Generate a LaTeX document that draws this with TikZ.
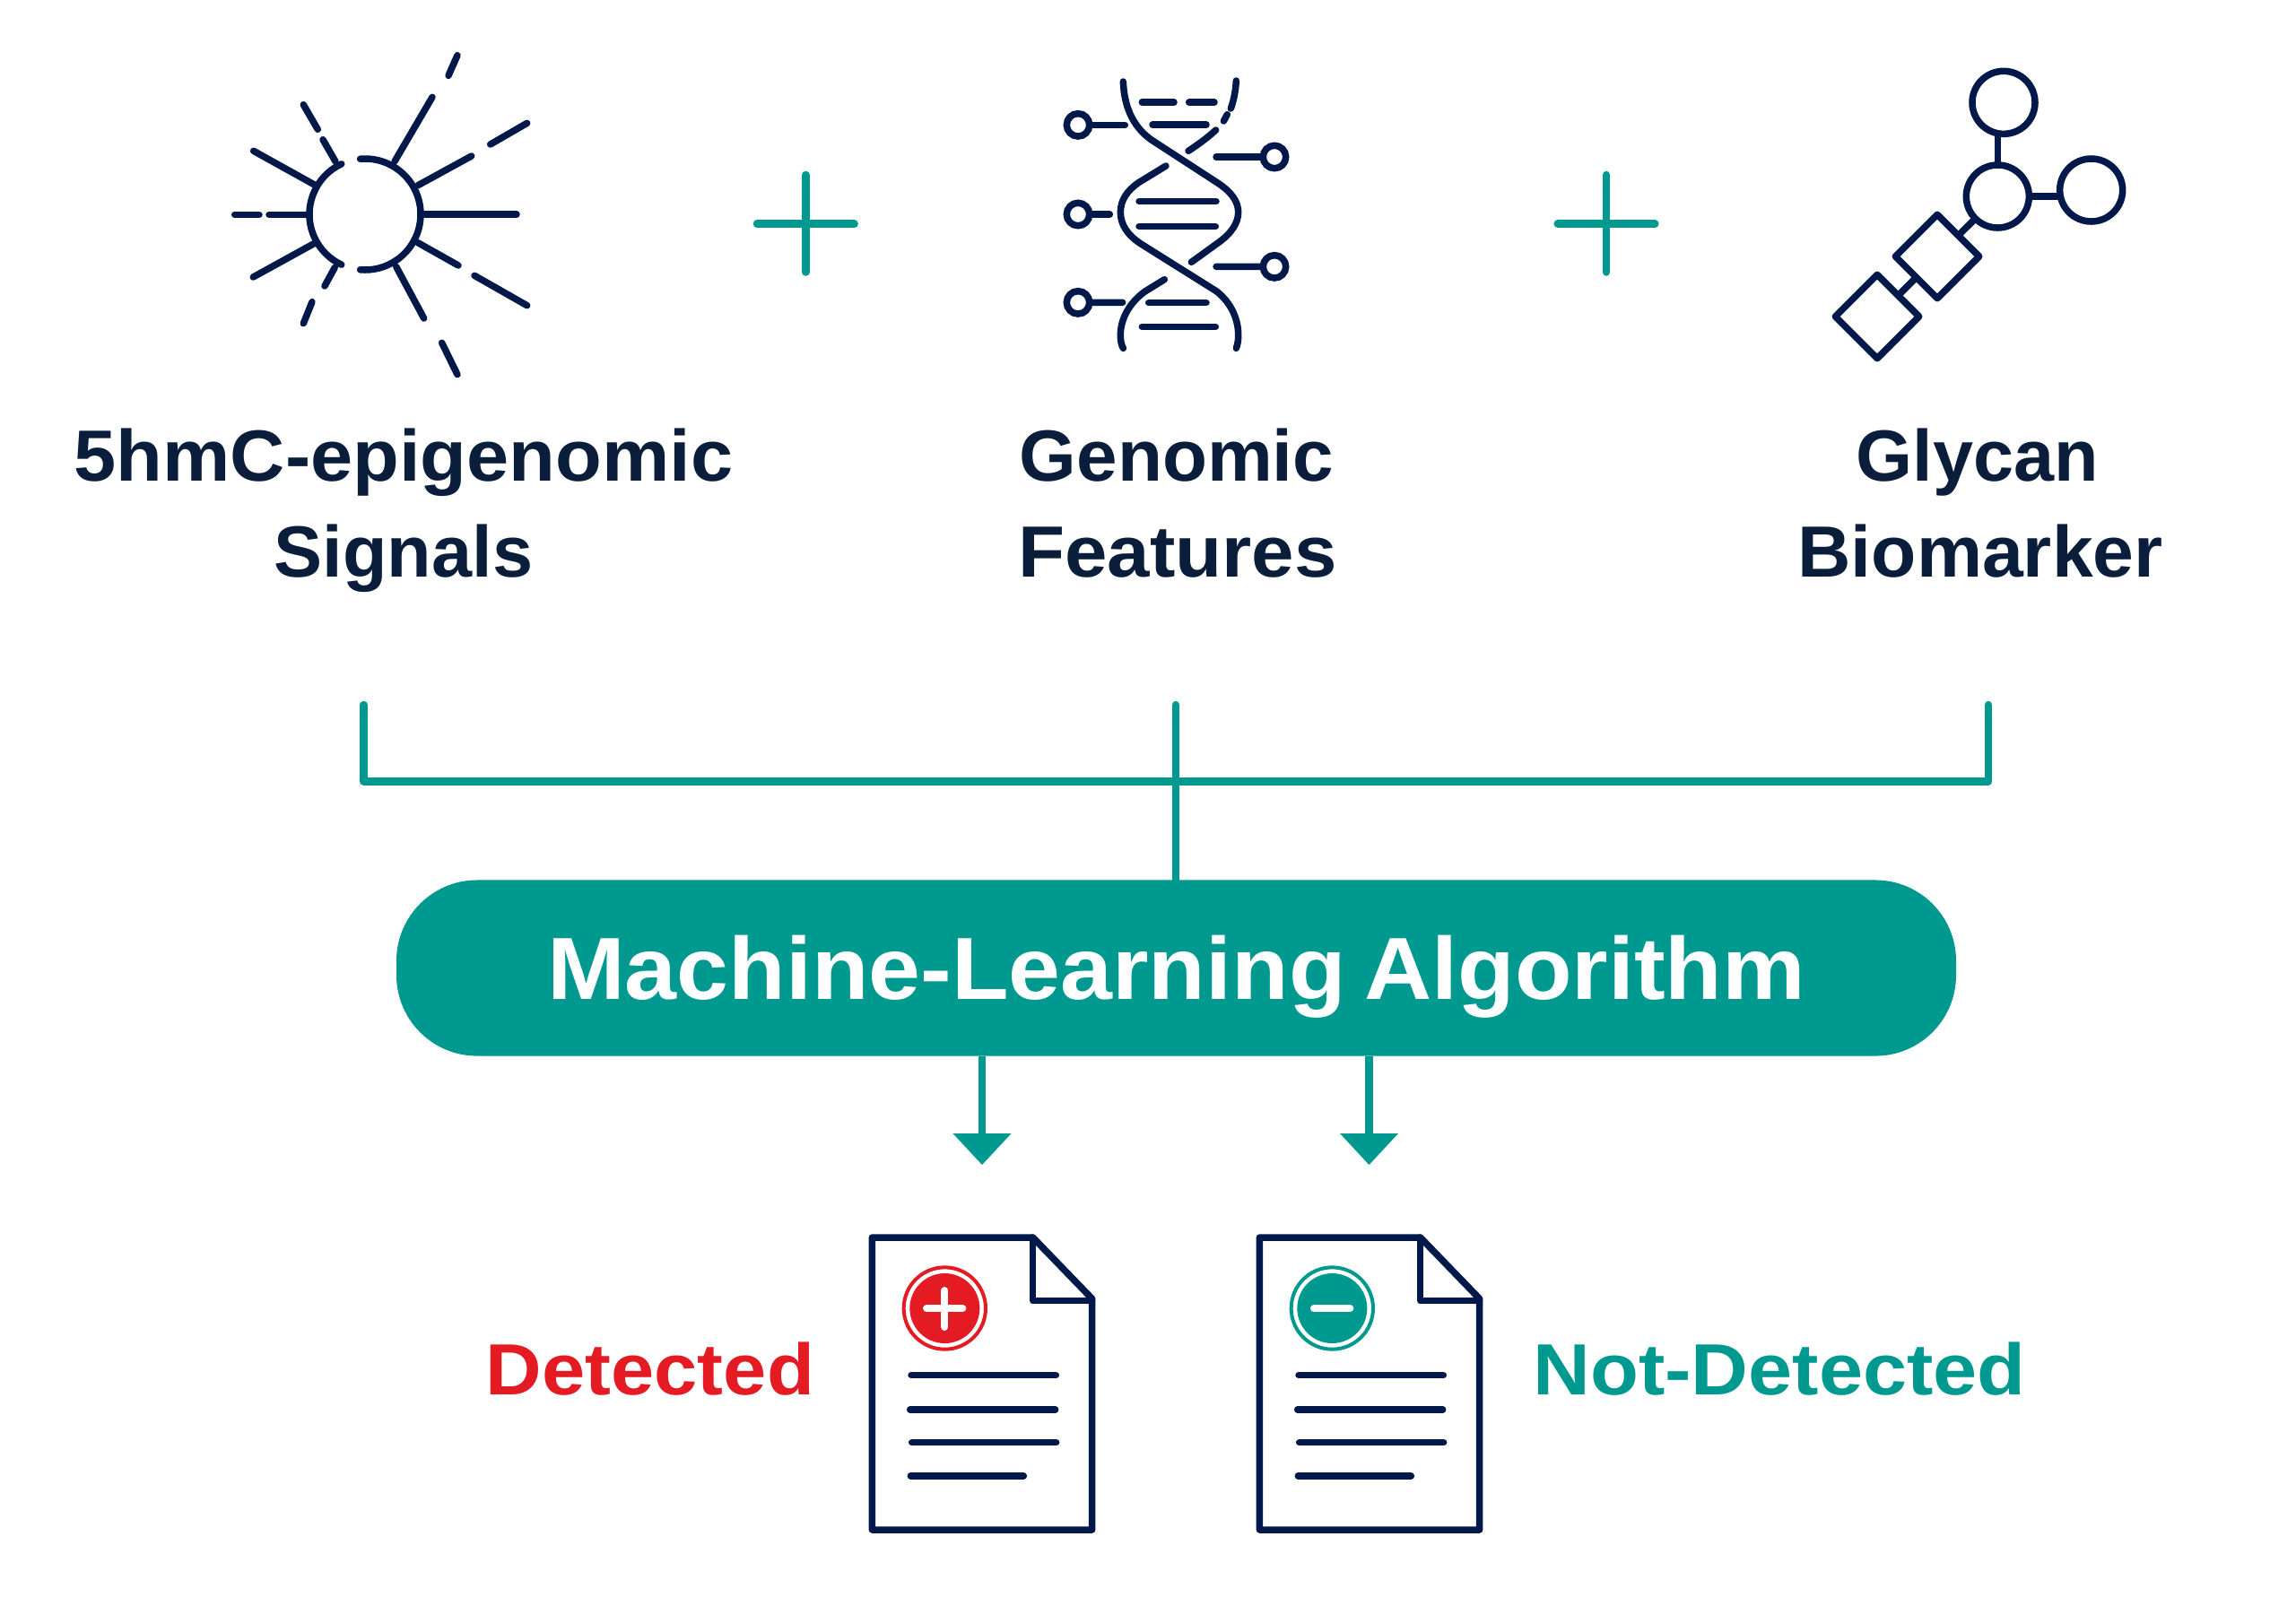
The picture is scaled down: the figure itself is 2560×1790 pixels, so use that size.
\documentclass[tikz,border=0pt]{standalone}
\usepackage{fontspec}
\usepackage{graphicx}
\usetikzlibrary{arrows.meta}
\setmainfont{Liberation Sans}
\newfontfamily\labfont{Liberation Sans}[Ligatures=TeX]
\definecolor{navy}{HTML}{00184A}
\definecolor{ink}{HTML}{0A1E3C}
\definecolor{teal}{HTML}{009990}
\definecolor{alert}{HTML}{E41B23}
\newcommand\fitw[2]{\resizebox{#1cm}{\height}{#2}}
\newcommand\docbody{%
  \draw[ic] (67,60) -- (605,60) -- (803,265) -- (803,1038) -- (67,1038) -- cycle;
  \draw[ic] (605,60) -- (605,272) -- (803,272);
  \draw[ic] (198,521) -- (682,521);
  \draw[ic] (194,636) -- (680,636);
  \draw[ic] (200,746) -- (683,746);
  \draw[ic] (196,858) -- (574,858);
}
\tikzset{
  ic/.style={draw=navy,line width=.075cm,line cap=round,line join=round},
  pin/.style={circle,draw=navy,line width=.075cm,fill=white,minimum size=.254cm,inner sep=0pt,outer sep=0pt},
  glyc/.style={circle,draw=navy,line width=.075cm,minimum size=.7cm,inner sep=0pt,outer sep=0pt},
  sugar/.style={rectangle,rotate=45,draw=navy,line width=.075cm,line join=round,minimum size=.66cm,inner sep=0pt,outer sep=0pt},
  conn/.style={draw=teal,line width=.085cm,line cap=round,line join=round},
  flow/.style={draw=teal,line width=.085cm,-{Triangle[length=.35cm,width=.65cm,line width=0pt]}},
  lab/.style={anchor=base,text=ink,inner sep=0pt,font=\labfont\bfseries\fontsize{23}{23}\selectfont},
  mlbar/.style={fill=teal,rounded corners=.9cm,minimum width=17.38cm,minimum height=1.96cm,inner sep=0pt,outer sep=0pt,text=white,text height=.7cm,text depth=0pt,font=\labfont\bfseries\fontsize{28}{28}\selectfont},
  verdict/.style={anchor=base,inner sep=0pt,font=\labfont\bfseries\fontsize{23}{23}\selectfont},
}
\begin{document}
\begin{tikzpicture}[x=.01cm,y=-.01cm]
\useasboundingbox (0,0) rectangle (2560,1790);
\fill[white] (0,0) rectangle (2560,1790);

% sun / 5hmC icon
\draw[ic] ([shift={(-95:62)}]407,239) arc[start angle=-95,end angle=95,radius=62];
\draw[ic] ([shift={(-115:62)}]407,239) arc[start angle=-115,end angle=-245,radius=62];
\draw[ic] (472,239) -- (576,239);
\draw[ic] (440,180) -- (482,108.3);
\draw[ic] (500,84.3) -- (510,61.7);
\draw[ic] (466,206.7) -- (525.7,174);
\draw[ic] (546.7,161) -- (587.7,137.3);
\draw[ic] (466,270.7) -- (511,296);
\draw[ic] (529,307.3) -- (587.7,340.7);
\draw[ic] (441.7,297.3) -- (472.7,355);
\draw[ic] (492.7,382.3) -- (510,417.7);
\draw[ic] (341.7,239.3) -- (300,239.3);
\draw[ic] (289,239.3) -- (261.7,239.3);
\draw[ic] (350,205.7) -- (282.7,168.3);
\draw[ic] (350,271.7) -- (282.3,309);
\draw[ic] (374,180) -- (360,155.7);
\draw[ic] (354.3,144.3) -- (338.3,116.7);
\draw[ic] (373.3,298.3) -- (362,319);
\draw[ic] (348,336.7) -- (338.3,360.7);

% plus signs
\draw[conn] (898.3,195) -- (898.3,303.5);
\draw[conn] (844,249.7) -- (952.6,249.7);
\draw[conn] (1791,195) -- (1791,303.5);
\draw[conn] (1736.7,249.7) -- (1845.3,249.7);

% DNA icon
\begin{scope}[shift={(1150,60)},scale=.33333]
\draw[ic] (307,93) .. controls (310,170) and (335,240) .. (400,287) -- (620,430) .. controls (670,462) and (692,495) .. (692,530) .. controls (692,565) and (670,600) .. (625,632) -- (535,697);
\draw[ic] (450,375) -- (360,430) .. controls (320,457) and (298,490) .. (298,530) .. controls (298,570) and (320,605) .. (365,635) -- (620,795) .. controls (670,835) and (692,890) .. (692,940) .. controls (692,960) and (690,972) .. (685,985);
\draw[ic] (685,90) .. controls (683,125) and (677,155) .. (667,183);
\draw[ic] (655,203) -- (643,225);
\draw[ic] (617,255) .. controls (590,280) and (560,302) .. (525,325);
\draw[ic] (445,755) -- (380,795) .. controls (325,835) and (298,890) .. (298,940) .. controls (298,960) and (300,972) .. (307,985);
\draw[ic] (370,162) -- (477,162);
\draw[ic] (527,162) -- (612,162);
\draw[ic] (405,237) -- (585,237);
\draw[ic] (360,494) -- (618,494);
\draw[ic] (360,578) -- (616,578);
\draw[ic] (392,833) -- (585,833);
\draw[ic] (370,913) -- (616,913);
\node[pin] (p1) at (156,238) {};
\node[pin] (p2) at (156,537) {};
\node[pin] (p3) at (156,832) {};
\node[pin] (p4) at (813,345) {};
\node[pin] (p5) at (813,712) {};
\coordinate (e1) at (313,238);
\coordinate (e2) at (262,537);
\coordinate (e3) at (305,832);
\coordinate (e4) at (618,345);
\coordinate (e5) at (618,712);
\draw[ic] (p1) -- (e1);
\draw[ic] (p2) -- (e2);
\draw[ic] (p3) -- (e3);
\draw[ic] (p4) -- (e4);
\draw[ic] (p5) -- (e5);
\end{scope}

% glycan icon
\begin{scope}[shift={(2020,50)},scale=.33333]
\node[glyc] (g1) at (642,193) {};
\node[glyc] (g2) at (622,507) {};
\node[glyc] (g3) at (935,486) {};
\node[sugar] (d1) at (420,708) {};
\node[sugar] (d2) at (219,909) {};
\draw[navy,line width=.075cm] (g2.north) -- (g2.north |- g1.south);
\draw[navy,line width=.075cm] (g2.east) -- (g2.east -| g3.west);
\draw[navy,line width=.075cm] (g2.225) -- (d1.east);
\draw[navy,line width=.075cm] (d1.west) -- (d2.east);
\end{scope}

% labels
\node[lab] (l1a) at (450,536) {\fitw{7.34}{5hmC-epigenomic}};
\node[lab] (l1b) at (450,643) {\fitw{2.88}{Signals}};
\node[lab] (l2a) at (1312,536) {\fitw{3.50}{Genomic}};
\node[lab] (l2b) at (1313,643) {\fitw{3.55}{Features}};
\node[lab] (l3a) at (2205,536) {\fitw{2.70}{Glycan}};
\node[lab] (l3b) at (2208,643) {\fitw{4.07}{Biomarker}};

% bar and connectors
\node[mlbar] (ml) at (1311.5,1079.5) {\fitw{14.02}{Machine-Learning\hspace{.2em}Algorithm}};
\coordinate (bl) at (405.5,786);
\coordinate (bm) at (1311,786);
\coordinate (br) at (2217,786);
\coordinate (cl) at (405.5,871.5);
\coordinate (cr) at (2217,871.5);
\draw[conn] (bl) -- (cl) -- (cr) -- (br);
\draw[conn] (bm) -- (bm |- ml.north);
\coordinate (t1) at (1095,1299);
\coordinate (t2) at (1526.5,1299);
\draw[flow] (t1 |- ml.south) -- (t1);
\draw[flow] (t2 |- ml.south) -- (t2);

% documents
\begin{scope}[shift={(950,1360)},scale=.33333]
\docbody
\fill[alert] (310,297) circle[radius=117];
\draw[alert,line width=.04cm] (310,297) circle[radius=137];
\draw[white,line width=.08cm,line cap=round] (310,237) -- (310,360);
\draw[white,line width=.08cm,line cap=round] (249,297) -- (370,297);
\end{scope}
\begin{scope}[shift={(1382,1360)},scale=.33333]
\docbody
\fill[teal] (310,297) circle[radius=117];
\draw[teal,line width=.04cm] (310,297) circle[radius=137];
\draw[white,line width=.08cm,line cap=round] (249,297) -- (370,297);
\end{scope}

\node[verdict,text=alert] (det) at (725,1555.7) {\fitw{3.66}{Detected}};
\node[verdict,text=teal] (ndet) at (1984,1555.7) {\fitw{5.49}{Not-Detected}};
\end{tikzpicture}
\end{document}
